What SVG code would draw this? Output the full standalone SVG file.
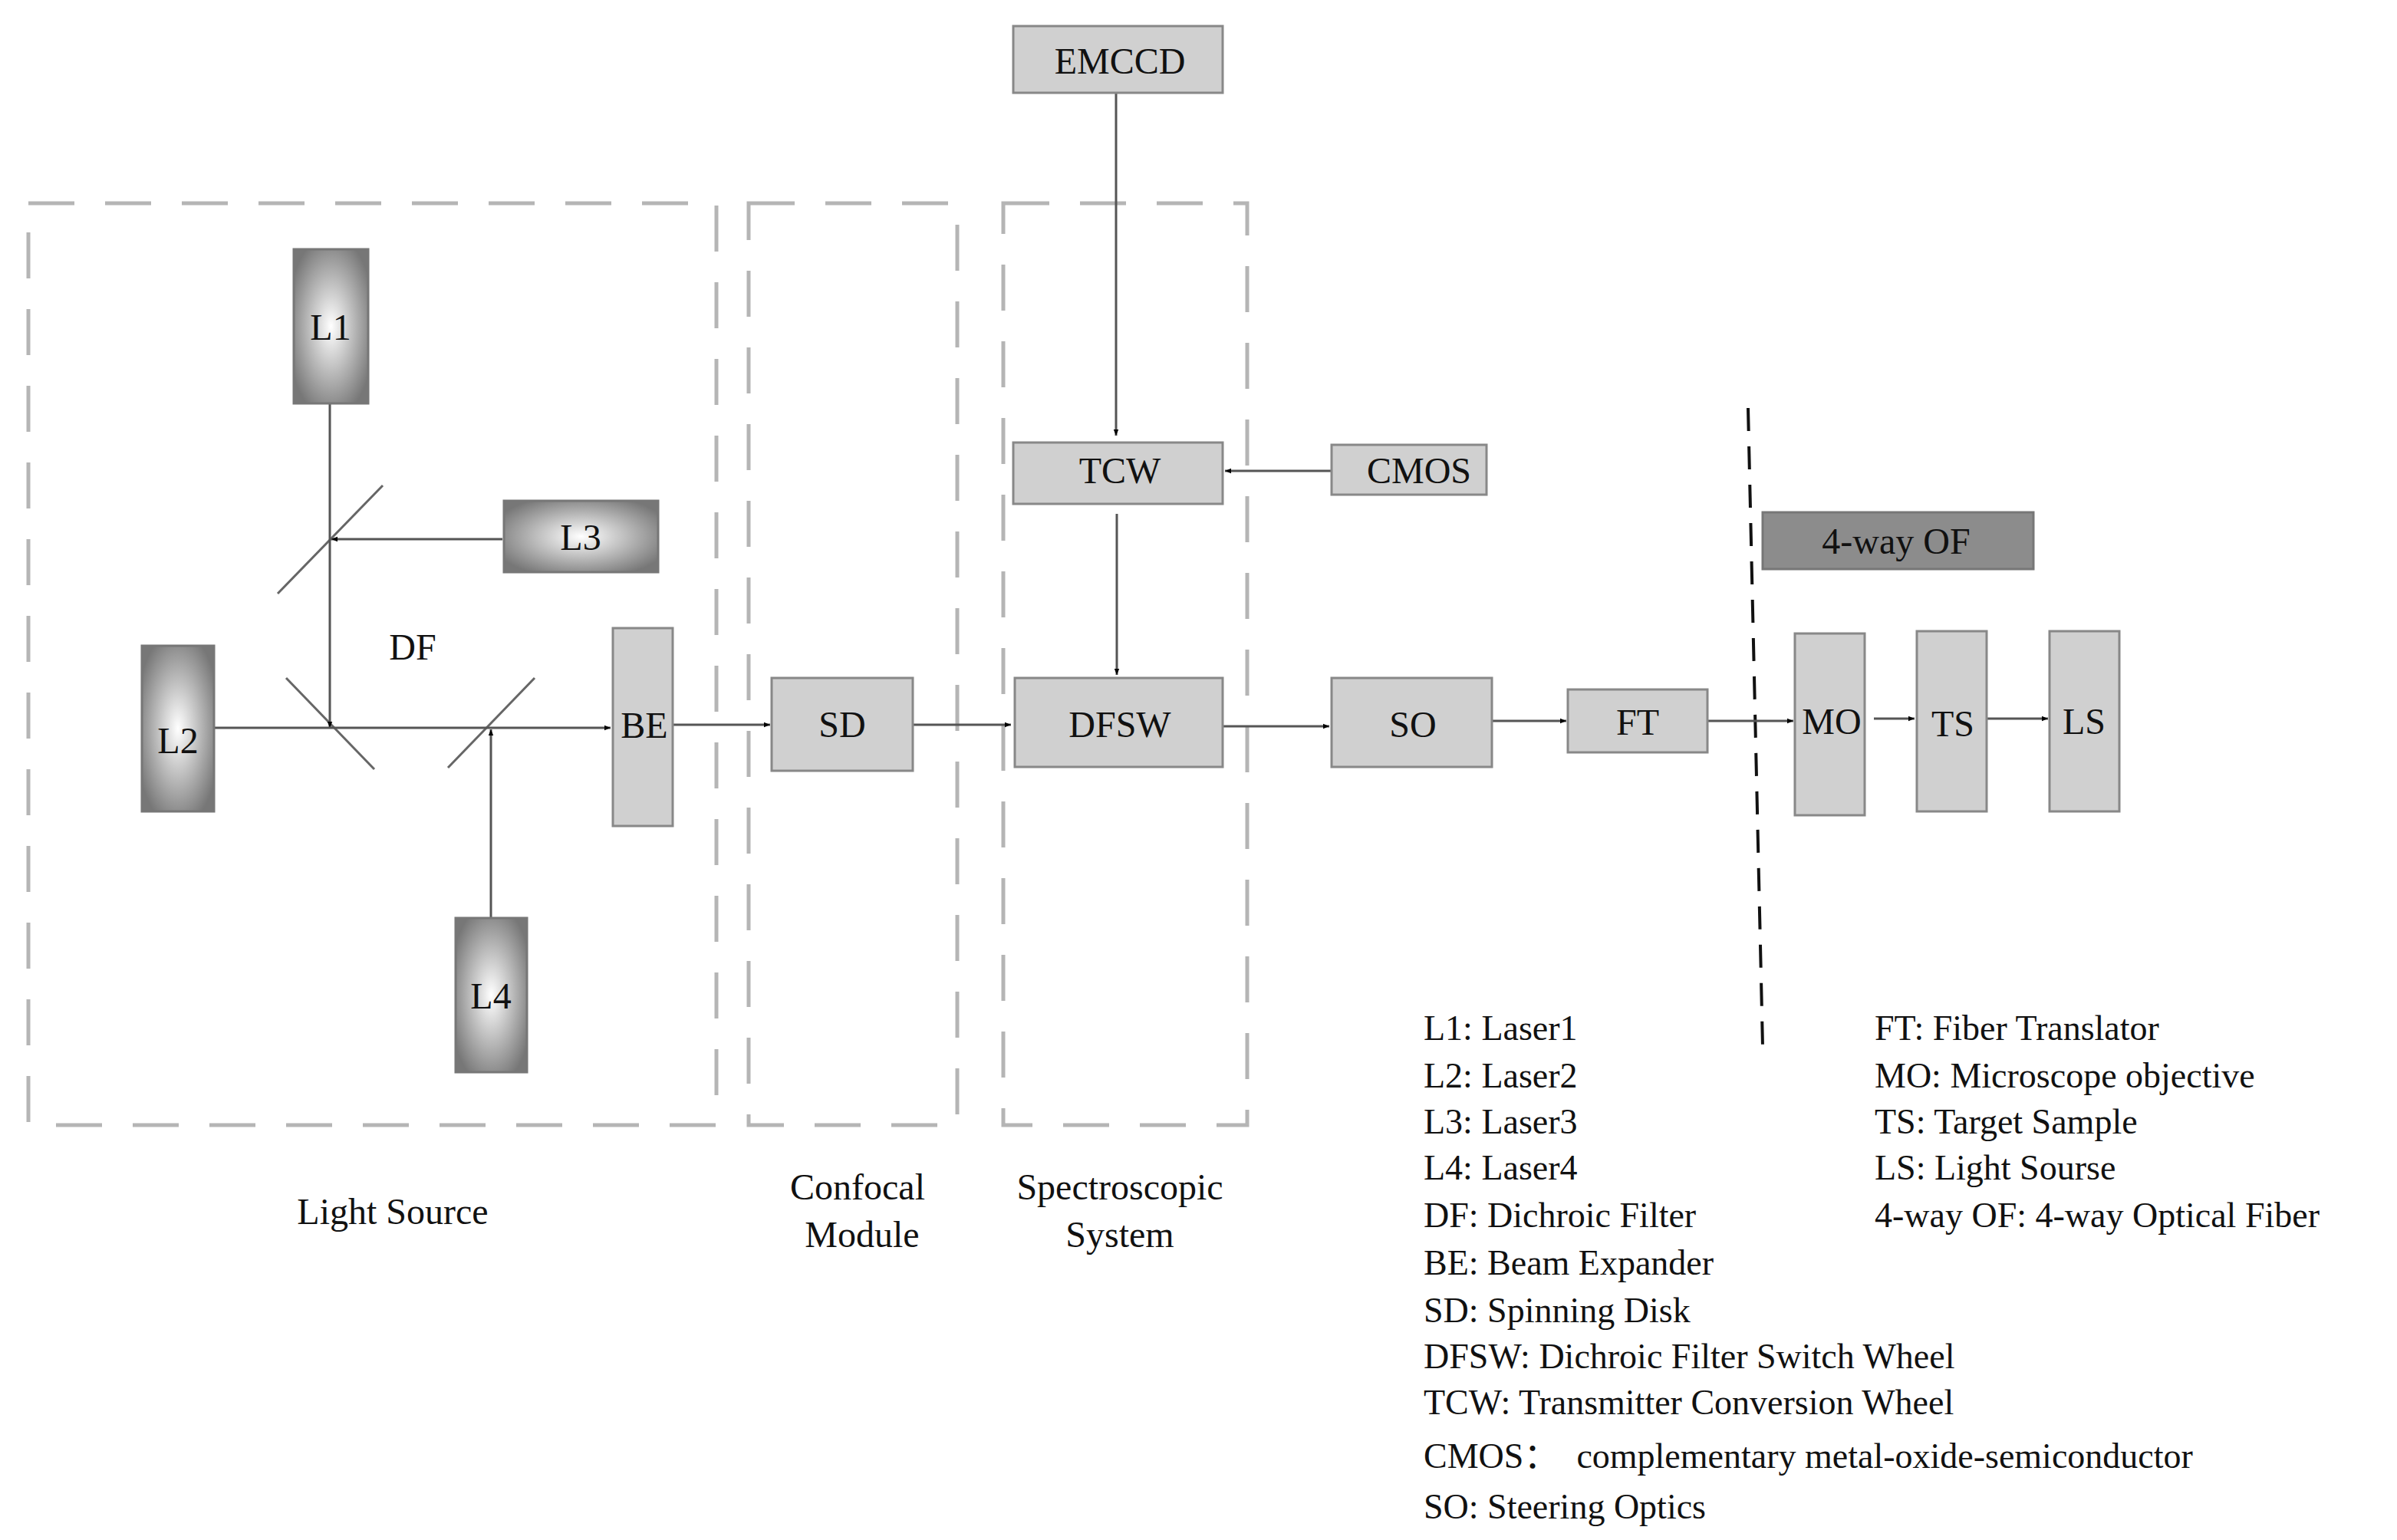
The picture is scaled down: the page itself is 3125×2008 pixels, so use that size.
<svg xmlns="http://www.w3.org/2000/svg" width="3125" height="2008" viewBox="0 0 3125 2008">
<style>
text{font-family:"Liberation Serif","Noto Sans CJK SC",serif;fill:#111}
.n{font-size:48px;text-anchor:middle}
.lg{font-size:46px}
.box{fill:#d0d0d0;stroke:#888;stroke-width:3}
.las{fill:url(#rg);stroke:#777;stroke-width:3}
.grp{fill:none;stroke:#b5b5b5;stroke-width:5;stroke-dasharray:60,40}
.c{stroke:#555;stroke-width:3;fill:none}
.m{stroke:#666;stroke-width:3}
</style>
<defs>
<radialGradient id="rg" cx="0.5" cy="0.5" r="0.6"><stop offset="0" stop-color="#fff"/><stop offset="1" stop-color="#777"/></radialGradient>
<marker id="a" viewBox="0 0 10 10" refX="10" refY="5" markerWidth="8" markerHeight="8" markerUnits="userSpaceOnUse" orient="auto"><path d="M0,1L10,5L0,9z" fill="#000"/></marker>
</defs>
<g id="groups">
<rect class="grp" x="37" y="265" width="897" height="1202"/>
<rect class="grp" x="976" y="265" width="272" height="1202"/>
<rect class="grp" x="1308" y="265" width="318" height="1202"/>
<line x1="2279" y1="532" x2="2298" y2="1364" stroke="#111" stroke-width="4" stroke-dasharray="30,20"/>
</g>
<g id="mirrors">
<line class="m" x1="362" y1="774" x2="499" y2="633"/>
<line class="m" x1="373" y1="884" x2="488" y2="1003"/>
<line class="m" x1="584" y1="1001" x2="697" y2="884"/>
</g>
<g id="connectors" marker-end="url(#a)">
<path class="c" d="M430,526V949" marker-end="url(#a)"/>
<path class="c" d="M655,703H432" marker-end="url(#a)"/>
<path class="c" d="M279,949H796" marker-end="url(#a)"/>
<path class="c" d="M640,1196V951" marker-end="url(#a)"/>
<path class="c" d="M877,945H1004" marker-end="url(#a)"/>
<path class="c" d="M1190,945H1318" marker-end="url(#a)"/>
<path class="c" d="M1455,121V568" marker-end="url(#a)"/>
<path class="c" d="M1736,614H1597" marker-end="url(#a)"/>
<path class="c" d="M1456,670V880" marker-end="url(#a)"/>
<path class="c" d="M1594,947H1733" marker-end="url(#a)"/>
<path class="c" d="M1945,940H2042" marker-end="url(#a)"/>
<path class="c" d="M2226,940H2338" marker-end="url(#a)"/>
<path class="c" d="M2443,937H2496" marker-end="url(#a)"/>
<path class="c" d="M2591,937H2670" marker-end="url(#a)"/>
</g>
<g id="L1"><rect class="las" x="383" y="325" width="97" height="201"/><text class="n" x="431" y="443">L1</text></g>
<g id="L3"><rect class="las" x="657" y="653" width="201" height="93"/><text class="n" x="757" y="717">L3</text></g>
<g id="L2"><rect class="las" x="185" y="842" width="94" height="216"/><text class="n" x="232" y="982">L2</text></g>
<g id="L4"><rect class="las" x="594" y="1197" width="93" height="201"/><text class="n" x="640" y="1315">L4</text></g>
<g id="DF"><text class="n" x="538" y="860">DF</text></g>
<g id="BE"><rect class="box" x="799" y="819" width="78" height="258"/><text class="n" x="840" y="962">BE</text></g>
<g id="SD"><rect class="box" x="1006" y="884" width="184" height="121"/><text class="n" x="1098" y="961">SD</text></g>
<g id="EMCCD"><rect class="box" x="1321" y="34" width="273" height="87"/><text class="n" x="1460" y="96">EMCCD</text></g>
<g id="TCW"><rect class="box" x="1321" y="577" width="273" height="80"/><text class="n" x="1460" y="630">TCW</text></g>
<g id="CMOS"><rect class="box" x="1736" y="580" width="202" height="65"/><text class="n" x="1850" y="630">CMOS</text></g>
<g id="DFSW"><rect class="box" x="1323" y="884" width="271" height="116"/><text class="n" x="1460" y="961">DFSW</text></g>
<g id="SO"><rect class="box" x="1736" y="884" width="209" height="116"/><text class="n" x="1842" y="961">SO</text></g>
<g id="FT"><rect class="box" x="2044" y="899" width="182" height="82"/><text class="n" x="2135" y="958">FT</text></g>
<g id="OF"><rect x="2298" y="668" width="353" height="74" fill="#8c8c8c" stroke="#777" stroke-width="3"/><text class="n" x="2472" y="722">4-way OF</text></g>
<g id="MO"><rect class="box" x="2340" y="826" width="91" height="237"/><text class="n" x="2388" y="957">MO</text></g>
<g id="TS"><rect class="box" x="2499" y="823" width="91" height="235"/><text class="n" x="2546" y="960">TS</text></g>
<g id="LS"><rect class="box" x="2672" y="823" width="91" height="235"/><text class="n" x="2717" y="957">LS</text></g>
<g id="grouplabels" class="n">
<text class="n" x="512" y="1596">Light Source</text>
<text class="n" x="1118" y="1564">Confocal</text>
<text class="n" x="1124" y="1626">Module</text>
<text class="n" x="1460" y="1564">Spectroscopic</text>
<text class="n" x="1460" y="1626">System</text>
</g>
<g id="legend">
<text class="lg" x="1856" y="1356">L1: Laser1</text>
<text class="lg" x="1856" y="1418">L2: Laser2</text>
<text class="lg" x="1856" y="1478">L3: Laser3</text>
<text class="lg" x="1856" y="1538">L4: Laser4</text>
<text class="lg" x="1856" y="1600">DF: Dichroic Filter</text>
<text class="lg" x="1856" y="1662">BE: Beam Expander</text>
<text class="lg" x="1856" y="1724">SD: Spinning Disk</text>
<text class="lg" x="1856" y="1784">DFSW: Dichroic Filter Switch Wheel</text>
<text class="lg" x="1856" y="1844">TCW: Transmitter Conversion Wheel</text>
<text class="lg" x="1856" y="1914" xml:space="preserve">CMOS：  complementary metal-oxide-semiconductor</text>
<text class="lg" x="1856" y="1980">SO: Steering Optics</text>
<text class="lg" x="2444" y="1356">FT: Fiber Translator</text>
<text class="lg" x="2444" y="1418">MO: Microscope objective</text>
<text class="lg" x="2444" y="1478">TS: Target Sample</text>
<text class="lg" x="2444" y="1538">LS: Light Sourse</text>
<text class="lg" x="2444" y="1600">4-way OF: 4-way Optical Fiber</text>
</g>
</svg>
